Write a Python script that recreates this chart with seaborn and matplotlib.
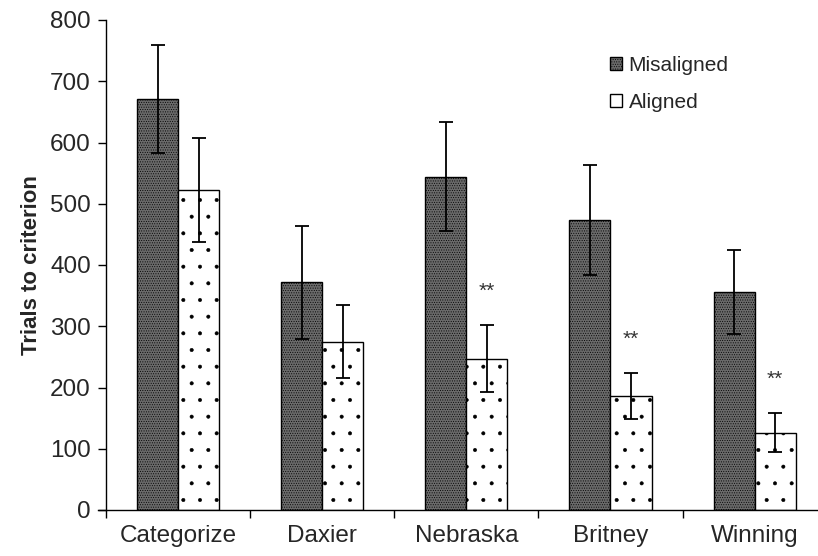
import matplotlib
matplotlib.use("Agg")
import numpy as np
import pandas as pd
import seaborn as sns
import matplotlib.pyplot as plt
from matplotlib.patches import Patch

tareas = ["Categorize", "Daxier", "Nebraska", "Britney", "Winning"]
grupos = ["Misaligned", "Aligned"]
misaligned = [671, 372, 544, 473, 356]
misaligned_err = [88, 92, 89, 90, 69]
aligned = [522, 275, 247, 186, 126]
aligned_err = [85, 60, 55, 38, 32]
signif = ["", "", "**", "**", "**"]

df = pd.DataFrame({
    "tarea": tareas * 2,
    "grupo": ["Misaligned"] * 5 + ["Aligned"] * 5,
    "trials": misaligned + aligned,
})

sns.set_style("white")
plt.rcParams["font.family"] = ["Liberation Sans", "DejaVu Sans"]
plt.rcParams["hatch.linewidth"] = 0.4

fig = plt.figure(figsize=(8.18, 5.56), dpi=100)
ax = fig.add_axes([98 / 818, 1 - 510 / 556, 1 - 98 / 818, 490 / 556])

sns.barplot(data=df, x="tarea", y="trials", hue="grupo", hue_order=grupos,
            order=tareas, width=0.57, errorbar=None, ax=ax,
            palette=["#7f7f7f", "white"], edgecolor="black", linewidth=1.0,
            legend=False)

estilos = [("#6a6a6a", "......."), ("white", ".")]
errores = [misaligned_err, aligned_err]
valores = [misaligned, aligned]
for cont, (fc, h), err, val in zip(ax.containers, estilos, errores, valores):
    xs = []
    for p in cont.patches:
        p.set_facecolor(fc)
        p.set_hatch(h)
        p.set_edgecolor("black")
        xs.append(p.get_x() + p.get_width() / 2)
    ax.errorbar(xs, val, yerr=err, fmt="none", ecolor="black",
                elinewidth=1.3, capsize=5, capthick=1.3, zorder=5)
    if cont is ax.containers[1]:
        for x, v, e, s in zip(xs, val, err, signif):
            if s:
                ax.text(x, v + e + 55, s, ha="center", va="center",
                        fontsize=15, color="#333333")

ax.set_ylim(0, 800)
ax.set_xlim(-0.556, 4.44)
ax.set_yticks(range(0, 801, 100))
ax.spines["left"].set_position(("data", -0.5))
ax.spines["top"].set_visible(False)
ax.spines["right"].set_visible(False)
for s in ["left", "bottom"]:
    ax.spines[s].set_color("black")
    ax.spines[s].set_linewidth(1.0)

ax.set_xticks([-0.5, 0.5, 1.5, 2.5, 3.5])
ax.set_xticklabels([])
ax.set_xticks(range(5), minor=True)
ax.set_xticklabels(tareas, minor=True, fontsize=17.5)
ax.tick_params(axis="x", which="major", direction="out", length=6, width=1,
               color="black", bottom=True)
ax.tick_params(axis="x", which="minor", length=0, pad=11)
ax.tick_params(axis="y", direction="out", length=6, width=1, color="black",
               left=True, labelsize=17.5, pad=5)

ax.set_xlabel("")
ax.set_ylabel("Trials to criterion", fontsize=16, fontweight="bold", labelpad=6)

handles = [Patch(facecolor="#6a6a6a", edgecolor="black", hatch="......."),
           Patch(facecolor="white", edgecolor="black")]
ax.legend(handles, grupos, loc="upper left", bbox_to_anchor=(0.685, 0.965),
          frameon=False, fontsize=15, handlelength=0.6, handleheight=0.6,
          handletextpad=0.3, labelspacing=0.85)

fig.savefig("out.png", dpi=100)
